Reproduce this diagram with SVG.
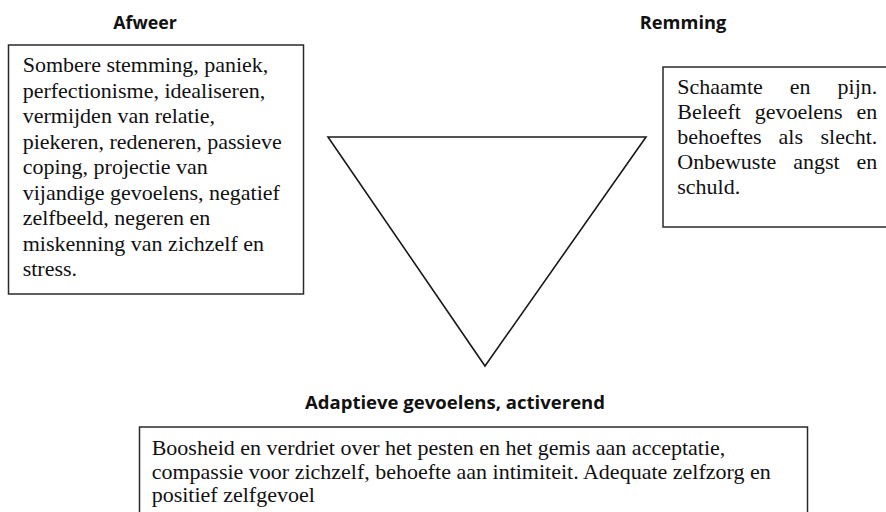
<svg xmlns="http://www.w3.org/2000/svg" width="886" height="512" viewBox="0 0 886 512">
<style>
.bg{fill:#ffffff}
.box{fill:#ffffff;stroke:#2a2a2a;stroke-width:1.5}
.tri{fill:#ffffff;stroke:#1a1a1a;stroke-width:1.6;stroke-linejoin:miter}
.title{font-family:"Open Sans","Liberation Sans",sans-serif;font-weight:700;font-size:17.5px;fill:#111;text-anchor:middle}
.body{font-family:"Liberation Serif","Times New Roman",serif;font-size:22px;fill:#111}
.end{text-anchor:end}
</style>
<rect class="bg" x="0" y="0" width="886" height="512"/>
<g id="triangle">
<polygon class="tri" points="328,137 646,137 485,366"/>
</g>
<g id="node-afweer">
<text class="title" x="145" y="28.5" textLength="63.5" lengthAdjust="spacingAndGlyphs">Afweer</text>
<rect class="box" x="8.5" y="45" width="295" height="249"/>
<text class="body">
<tspan x="22.7" y="72">Sombere stemming, paniek,</tspan>
<tspan x="22.7" y="97.5">perfectionisme, idealiseren,</tspan>
<tspan x="22.7" y="123">vermijden van relatie,</tspan>
<tspan x="22.7" y="148.5">piekeren, redeneren, passieve</tspan>
<tspan x="22.7" y="174">coping, projectie van</tspan>
<tspan x="22.7" y="199.5">vijandige gevoelens, negatief</tspan>
<tspan x="22.7" y="225">zelfbeeld, negeren en</tspan>
<tspan x="22.7" y="250.5">miskenning van zichzelf en</tspan>
<tspan x="22.7" y="276">stress.</tspan>
</text>
</g>
<g id="node-remming">
<text class="title" x="683" y="28.5" textLength="86.5" lengthAdjust="spacingAndGlyphs">Remming</text>
<rect class="box" x="663" y="67" width="230" height="160"/>
<text class="body" y="94"><tspan x="677.3">Schaamte</tspan><tspan x="789.8">en</tspan></text>
<text class="body end" x="877.3" y="94">pijn.</text>
<text class="body" y="119"><tspan x="677.3">Beleeft</tspan><tspan x="754.7">gevoelens</tspan></text>
<text class="body end" x="877.3" y="119">en</text>
<text class="body" y="144"><tspan x="677.3">behoeftes</tspan><tspan x="778.5">als</tspan></text>
<text class="body end" x="877.3" y="144">slecht.</text>
<text class="body" y="169"><tspan x="677.3">Onbewuste</tspan><tspan x="793.2">angst</tspan></text>
<text class="body end" x="877.3" y="169">en</text>
<text class="body" x="677.3" y="194">schuld.</text>
</g>
<g id="node-adaptief">
<text class="title" x="455" y="409" textLength="300" lengthAdjust="spacingAndGlyphs">Adaptieve gevoelens, activerend</text>
<rect class="box" x="139.5" y="427" width="668" height="100"/>
<text class="body">
<tspan x="151.7" y="455">Boosheid en verdriet over het pesten en het gemis aan acceptatie,</tspan>
<tspan x="151.7" y="478.5">compassie voor zichzelf, behoefte aan intimiteit. Adequate zelfzorg en</tspan>
<tspan x="151.7" y="502">positief zelfgevoel</tspan>
</text>
</g>
<g id="connectors"></g>
</svg>
